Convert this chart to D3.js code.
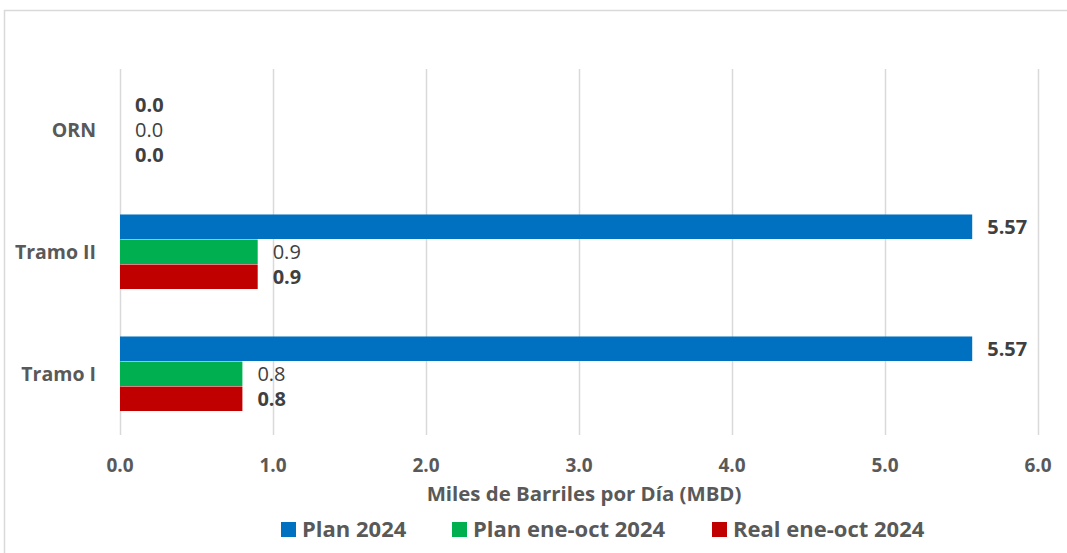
<!DOCTYPE html>
<html>
<head>
<meta charset="utf-8">
<script src="https://cdn.jsdelivr.net/npm/d3@7"></script>
<style>
  body { margin: 0; background: #fff; }
  text { font-family: "Open Sans", sans-serif; }
</style>
</head>
<body>
<svg id="chart" width="1067" height="553"></svg>
<script>
const categories = ['ORN', 'Tramo II', 'Tramo I']
const seriesNames = ['Plan 2024', 'Plan ene-oct 2024', 'Real ene-oct 2024']
const plan2024 = [0.0, 5.57, 5.57]
const planEneOct = [0.0, 0.9, 0.8]
const realEneOct = [0.0, 0.9, 0.8]
const valueLabels = [['0.0', '5.57', '5.57'], ['0.0', '0.9', '0.8'], ['0.0', '0.9', '0.8']]
const xTicks = [0, 1, 2, 3, 4, 5, 6]

const colors = ['#0070c0', '#00b050', '#c00000']
const bold = [true, false, true]
const series = [plan2024, planEneOct, realEneOct]

const svg = d3.select('#chart')

// marco del gráfico
svg.append('path')
  .attr('d', 'M4.5,560 V10.5 H1080')
  .attr('fill', 'none')
  .attr('stroke', '#d9d9d9')
  .attr('stroke-width', 1.5)

const margin = { top: 69, left: 120 }
const width = 918
const height = 366

const x = d3.scaleLinear().domain([0, 6]).range([0, width])
const y = d3.scaleBand().domain(categories).range([0, height]).paddingInner(0.385).paddingOuter(0.1925)
const ySub = d3.scaleBand().domain(d3.range(3)).range([0, y.bandwidth()])

const g = svg.append('g').attr('transform', 'translate(' + margin.left + ',' + margin.top + ')')

// líneas de cuadrícula
g.append('g')
  .selectAll('line')
  .data(xTicks)
  .enter()
  .append('line')
  .attr('x1', d => x(d) + 0.5)
  .attr('x2', d => x(d) + 0.5)
  .attr('y1', 0)
  .attr('y2', height)
  .attr('stroke', '#d9d9d9')
  .attr('stroke-width', 1.5)

// etiquetas del eje x
g.append('g')
  .selectAll('text')
  .data(xTicks)
  .enter()
  .append('text')
  .attr('x', d => x(d))
  .attr('y', height + 37)
  .attr('text-anchor', 'middle')
  .attr('fill', '#595959')
  .attr('font-size', '19px')
  .attr('font-weight', 700)
  .text(d => d3.format('.1f')(d))

// etiquetas de categorías
g.append('g')
  .selectAll('text')
  .data(categories)
  .enter()
  .append('text')
  .attr('x', -24)
  .attr('y', d => y(d) + y.bandwidth() / 2)
  .attr('dy', '0.35em')
  .attr('text-anchor', 'end')
  .attr('fill', '#595959')
  .attr('font-size', '19.5px')
  .attr('font-weight', 700)
  .text(d => d)

// barras
series.forEach((vals, s) => {
  g.append('g')
    .selectAll('rect')
    .data(vals)
    .enter()
    .append('rect')
    .attr('x', 0)
    .attr('y', (d, i) => y(categories[i]) + ySub(s))
    .attr('width', d => x(d))
    .attr('height', ySub.bandwidth() - 0.5)
    .attr('fill', colors[s])

  g.append('g')
    .selectAll('text')
    .data(vals)
    .enter()
    .append('text')
    .attr('x', d => x(d) + 15)
    .attr('y', (d, i) => y(categories[i]) + ySub(s) + ySub.bandwidth() / 2)
    .attr('dy', '0.36em')
    .attr('fill', '#404040')
    .attr('font-size', '20px')
    .attr('font-weight', bold[s] ? 700 : 400)
    .text((d, i) => valueLabels[s][i])
})

// título del eje
svg.append('text')
  .attr('x', 584)
  .attr('y', 501)
  .attr('text-anchor', 'middle')
  .attr('fill', '#595959')
  .attr('font-size', '20.4px')
  .attr('font-weight', 700)
  .text('Miles de Barriles por Día (MBD)')

// leyenda
const legendX = [281, 452, 712]
const legend = svg.append('g')
seriesNames.forEach((name, i) => {
  legend.append('rect')
    .attr('x', legendX[i])
    .attr('y', 522)
    .attr('width', 15)
    .attr('height', 15)
    .attr('fill', colors[i])
  legend.append('text')
    .attr('x', legendX[i] + 21)
    .attr('y', 537)
    .attr('fill', '#595959')
    .attr('font-size', '22px')
    .attr('font-weight', 700)
    .text(name)
})
</script>
</body>
</html>
